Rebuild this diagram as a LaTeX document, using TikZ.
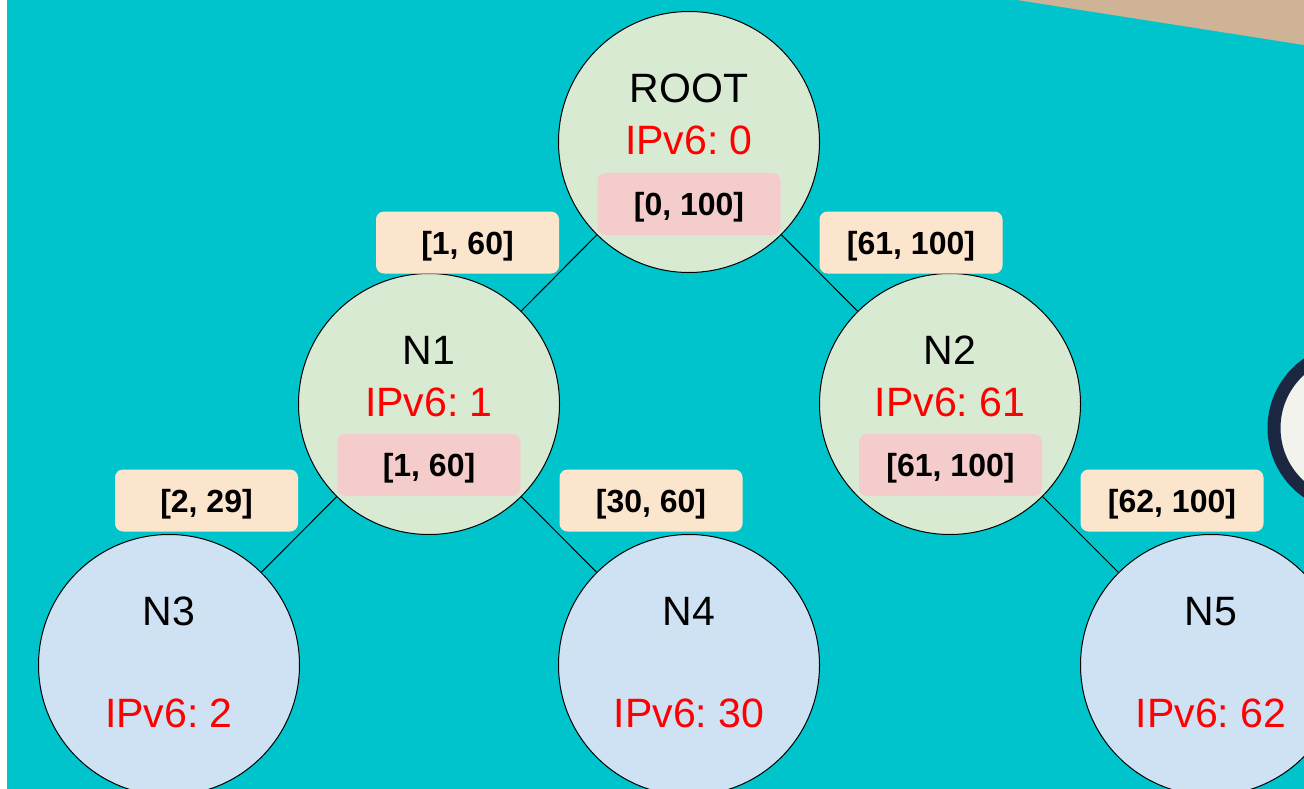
\documentclass[tikz,border=0pt]{standalone}
\usepackage{fontspec}
\setmainfont{Liberation Sans}
\frenchspacing
\definecolor{bgcyan}{HTML}{00C4CC}
\definecolor{greenfill}{HTML}{D9EAD3}
\definecolor{bluefill}{HTML}{CFE2F3}
\definecolor{pinkfill}{HTML}{F4CCCC}
\definecolor{peachfill}{HTML}{FCE5CD}
\definecolor{tanfill}{HTML}{CFB396}
\definecolor{darkring}{HTML}{1B2640}
\definecolor{ringin}{HTML}{F3F3EE}
\definecolor{ipred}{HTML}{FF0000}
\pgfdeclarelayer{bglayer}
\pgfdeclarelayer{edgelayer}
\pgfsetlayers{bglayer,edgelayer,main}
\tikzset{
  nodecirc/.style={circle, draw=black, line width=1pt, minimum size=261pt, inner sep=0pt},
  innode/.style={nodecirc, fill=greenfill},
  leafnode/.style={nodecirc, fill=bluefill},
  nametext/.style={anchor=base, inner sep=0pt, font=\fontsize{41}{48}\selectfont, text=black},
  iptext/.style={anchor=base, inner sep=0pt, font=\fontsize{41}{48}\selectfont, text=ipred},
  rangebox/.style={rounded corners=8pt, minimum width=183pt, minimum height=62pt, inner sep=0pt,
     text height=23pt, text depth=0pt, font=\fontsize{32}{38}\selectfont\bfseries, text=black},
  pinkbox/.style={rangebox, fill=pinkfill},
  peachbox/.style={rangebox, fill=peachfill},
  edge/.style={draw=black, line width=1pt}
}
\begin{document}
\begin{tikzpicture}[x=1pt,y=-1pt]
\useasboundingbox (0,0) rectangle (1304,789);
\begin{pgfonlayer}{bglayer}
\fill[white] (0,0) rectangle (1304,789);
\fill[bgcyan] (7,0) rectangle (1304,789);
\fill[tanfill] (1017,0) -- (1304,0) -- (1304,45) -- cycle;
\draw[darkring, line width=13pt, fill=ringin] (1352,428) circle[radius=78];
\end{pgfonlayer}

% circles
\node[innode] (root) at (689,142) {};
\node[innode] (n1) at (429,404) {};
\node[innode] (n2) at (950,404) {};
\node[leafnode] (n3) at (169,665) {};
\node[leafnode] (n4) at (689,665) {};
\node[leafnode] (n5) at (1211,665) {};

% edges (behind the circles)
\begin{pgfonlayer}{edgelayer}
\draw[edge] (root) -- (n1);
\draw[edge] (root) -- (n2);
\draw[edge] (n1) -- (n3);
\draw[edge] (n1) -- (n4);
\draw[edge] (n2) -- (n5);
\end{pgfonlayer}

% texts
\node[nametext] (rootname) at (689,103) {ROOT};
\node[iptext] (rootip) at (689,154) {IPv6: 0};
\node[pinkbox] (rootrange) at (689,204) {[0, 100]};

\node[nametext] (n1name) at (429,364) {N1};
\node[iptext] (n1ip) at (429,416) {IPv6: 1};
\node[pinkbox] (n1range) at (429,465) {[1, 60]};

\node[nametext] (n2name) at (950,364) {N2};
\node[iptext] (n2ip) at (950,416) {IPv6: 61};
\node[pinkbox] (n2range) at (950.5,465) {[61, 100]};

\node[nametext] (n3name) at (169,625) {N3};
\node[iptext] (n3ip) at (169,727) {IPv6: 2};
\node[nametext] (n4name) at (689,625) {N4};
\node[iptext] (n4ip) at (689,727) {IPv6: 30};
\node[nametext] (n5name) at (1211,625) {N5};
\node[iptext] (n5ip) at (1211,727) {IPv6: 62};

% edge labels
\node[peachbox] (e1) at (467.5,242.5) {[1, 60]};
\node[peachbox] (e2) at (911,242.5) {[61, 100]};
\node[peachbox] (e3) at (206.5,500.5) {[2, 29]};
\node[peachbox] (e4) at (651,500.5) {[30, 60]};
\node[peachbox] (e5) at (1172,500.5) {[62, 100]};
\end{tikzpicture}
\end{document}
